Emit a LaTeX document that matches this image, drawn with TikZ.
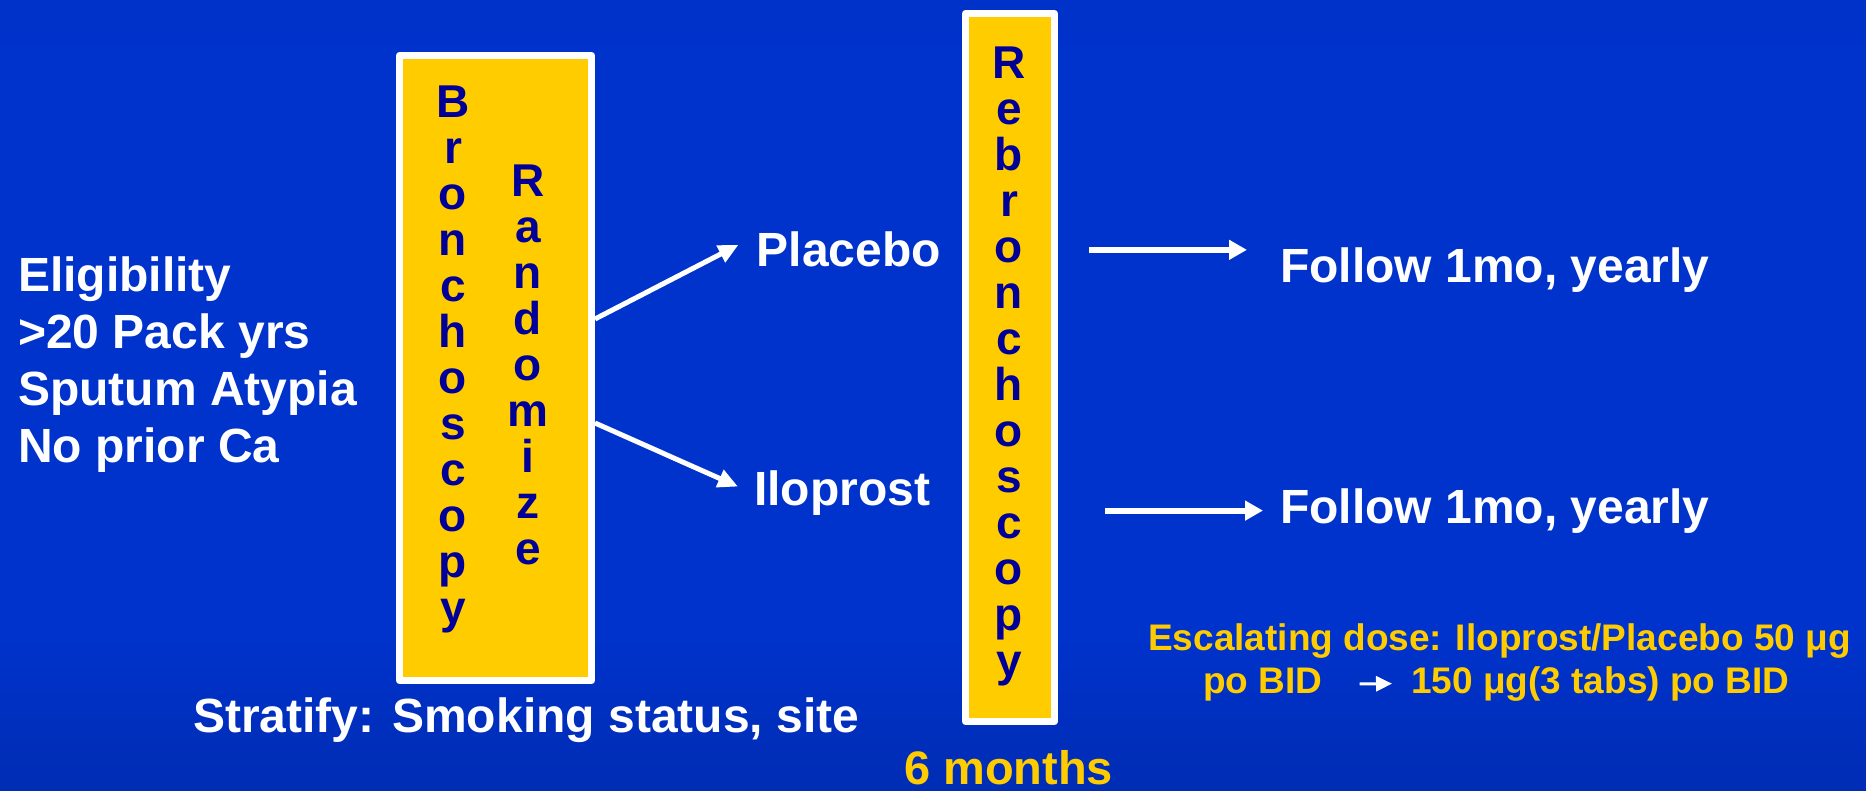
\documentclass[tikz,border=0pt]{standalone}
\usepackage{fontspec}
\setmainfont{Liberation Sans}
\usetikzlibrary{arrows.meta}
\definecolor{boxyellow}{RGB}{255,204,0}
\definecolor{boxtext}{RGB}{0,0,153}
\definecolor{bgtop}{RGB}{0,44,188}
\definecolor{bgmid}{RGB}{0,51,204}
\definecolor{bgbot}{RGB}{0,28,120}
\pgfdeclareverticalshading{slidebg}{100bp}{color(0bp)=(bgbot); color(35bp)=(bgmid); color(70bp)=(bgmid); color(100bp)=(bgtop)}
\tikzset{
	lbl/.style={text=white, font=\fontsize{48}{56.7}\selectfont\bfseries, inner sep=0pt},
	dose/.style={text=boxyellow, font=\fontsize{37}{43}\selectfont\bfseries, inner sep=0pt},
	stagebox/.style={draw=white, line width=7pt, fill=boxyellow, inner sep=0pt},
	vword/.style={text=boxtext, font=\fontsize{46}{46}\selectfont\bfseries, align=center, inner sep=0pt, anchor=north},
	split/.style={draw=white, line width=5pt, -{Triangle[length=20pt,width=18pt]}},
	follow/.style={draw=white, line width=6pt, -{Triangle[length=18pt,width=19pt]}},
	doseto/.style={draw=white, line width=3pt, -{Triangle[length=16pt,width=15pt]}},
}
\begin{document}
\begin{tikzpicture}[x=1pt, y=-1pt, line join=round]
		\shade[shading=slidebg] (0,0) rectangle (1866,791);
		\useasboundingbox (0,0) rectangle (1866,791);
		% the two yellow stage boxes
		\node[stagebox, minimum width=192pt, minimum height=625pt] (scope1) at (495.5,368) {};
		\node[stagebox, minimum width=89pt, minimum height=708pt] (scope2) at (1010,367.5) {};
		\node[vword] (bronch) at (453,85.5) {B\\r\\o\\n\\c\\h\\o\\s\\c\\o\\p\\y};
		\node[vword] (rand) at (528,164.5) {R\\a\\n\\d\\o\\m\\i\\z\\e};
		\node[vword] (rebronch) at (1009,46.5) {R\\e\\b\\r\\o\\n\\c\\h\\o\\s\\c\\o\\p\\y};
		% texts
		\node[lbl, anchor=north west, align=left] (elig) at (18,257) {Eligibility\\>20 Pack yrs\\Sputum Atypia\\No prior Ca};
		\node[lbl, anchor=base west] (placebo) at (756.5,267) {Placebo};
		\node[lbl, anchor=base west] (iloprost) at (754,505) {Iloprost};
		\node[lbl, anchor=base west] (follow1) at (1280,283) {Follow 1mo, yearly};
		\node[lbl, anchor=base west] (follow2) at (1280,523) {Follow 1mo, yearly};
		\node[lbl, anchor=base west] (stratify) at (193,732) {Stratify: Smoking status, site};
		\node[lbl, anchor=base west, text=boxyellow, font=\fontsize{47}{56}\selectfont\bfseries] (sixmonths) at (904,784) {6 months};
		\node[dose, anchor=base west] (dose1) at (1148,650) {Escalating dose: Iloprost/Placebo 50 μg};
		\node[dose, anchor=base west] (lowdose) at (1203,693) {po BID};
		\node[dose, anchor=base west] (highdose) at (1411,693) {150 μg(3 tabs) po BID};
		% arrows
		\draw[split] ([yshift=49pt]scope1.east) -- ([xshift=-18pt,yshift=5pt]placebo.west);
		\draw[split] ([yshift=-55pt]scope1.east) -- ([xshift=-16pt,yshift=6pt]iloprost.west);
		\draw[follow, shorten <=31pt, shorten >=33pt] (scope2.east |- placebo.west) -- (follow1.west |- placebo.west);
		\draw[follow, shorten <=47pt, shorten >=17pt] (scope2.east |- follow2.west) -- (follow2.west);
		\draw[doseto, shorten <=37pt, shorten >=19pt] (lowdose.east) -- (highdose.west);
	\end{tikzpicture}
\end{document}
